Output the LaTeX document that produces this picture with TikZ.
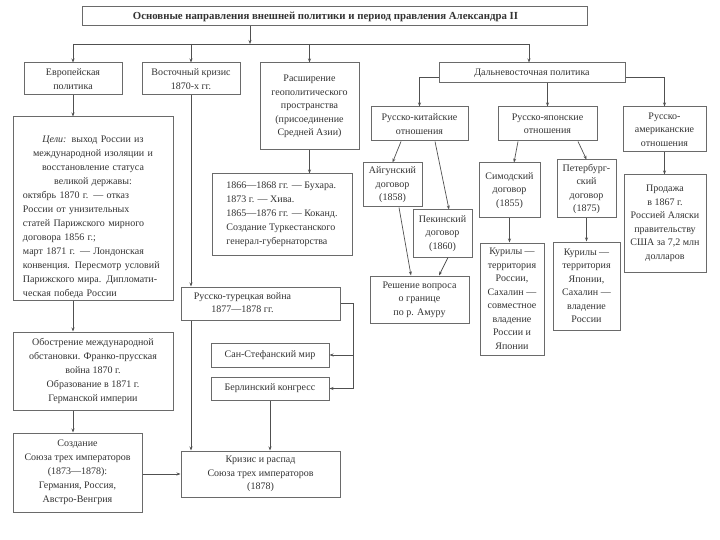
\documentclass[tikz,border=0pt]{standalone}
\usepackage{fontspec}
\setmainfont{Liberation Serif}
\usetikzlibrary{arrows.meta}
\definecolor{boxc}{HTML}{6A6A6A}
\definecolor{linec}{HTML}{505050}
\definecolor{txtc}{HTML}{333333}
\begin{document}
\begin{tikzpicture}[x=1pt,y=-1pt,
  box/.style={draw=boxc, line width=1pt, inner sep=1pt, align=center, text=txtc,
    font=\fontsize{10}{13.5}\selectfont},
  sz/.style 2 args={minimum width=#1, minimum height=#2},
  conn/.style={draw=linec, line width=0.7pt},
  arr/.style={conn, -{Stealth[length=4pt,width=3pt]}}]
\useasboundingbox[fill=white] (0,0) rectangle (720,540);

% top
\node[box, sz={505}{19}, font=\bfseries\fontsize{10.8}{12}\selectfont] (title) at (334.5,16.5)
  {\hspace*{-18pt}Основные направления внешней политики и период правления Александра II};

% first level
\node[box, sz={98}{32}] (evr) at (73,79) {Европейская\\политика};
\node[box, sz={98}{32}] (vost) at (191,79) {Восточный кризис\\1870-х гг.};
\node[box, sz={99}{87}] (rassh) at (309.5,106.5) {Расширение\\геополитического\\пространства\\(присоединение\\Средней Азии)};
\node[box, sz={186}{20}] (dalnev) at (532,73) {Дальневосточная политика};

% left column
\node[box, sz={160}{183}, text width=140pt, align=left, font=\fontsize{10}{14}\selectfont] (tsel) at (93,208.5)
  {\rule{0pt}{23pt}\makebox[140pt][c]{\textit{Цели:} выход России из}\\
   \makebox[140pt][c]{международной изоляции и}\\
   \makebox[140pt][c]{восстановление статуса}\\
   \makebox[140pt][c]{великой державы:}\\
   октябрь 1870 г. — отказ\\
   России от унизительных\\
   статей Парижского мирного\\
   договора 1856 г.;\\
   март 1871 г. — Лондонская\\
   конвенция. Пересмотр условий\\
   Парижского мира. Дипломати-\\
   ческая победа России};
\node[box, sz={160}{78}, font=\fontsize{10}{14}\selectfont] (obostr) at (93,371)
  {Обострение международной\\обстановки. Франко-прусская\\война 1870 г.\\Образование в 1871 г.\\Германской империи};
\node[box, sz={129}{79}, font=\fontsize{10}{14}\selectfont] (sozd) at (77.5,472.5)
  {Создание\\Союза трех императоров\\(1873—1878):\\Германия, Россия,\\Австро-Венгрия};

% middle column
\node[box, sz={140}{81}, align=left, font=\fontsize{10}{14}\selectfont] (t1866) at (282,214.5)
  {1866—1868 гг. — Бухара.\\1873 г. — Хива.\\1865—1876 гг. — Коканд.\\Создание Туркестанского\\генерал-губернаторства};
\node[box, sz={159}{33}] (rtur) at (260.5,303.5)
  {\hspace*{-36pt}\begin{tabular}{@{}c@{}}Русско-турецкая война\\1877—1878 гг.\end{tabular}};
\node[box, sz={118}{24}] (sanst) at (270,355) {Сан-Стефанский мир};
\node[box, sz={118}{23}] (berl) at (270,388.5) {Берлинский конгресс};
\node[box, sz={159}{46}] (kriz) at (260.5,474)
  {Кризис и распад\\Союза трех императоров\\(1878)};

% far east
\node[box, sz={97}{34}] (rkit) at (419.5,124) {Русско-китайские\\отношения};
\node[box, sz={99}{34}] (rjap) at (547.5,124) {Русско-японские\\отношения};
\node[box, sz={83}{45}] (ramer) at (664.5,129.5) {Русско-\\американские\\отношения};
\node[box, sz={59}{44}] (aigun) at (392.5,185) {Айгунский\\договор\\(1858)};
\node[box, sz={59}{47}] (pekin) at (442.5,233.5) {Пекинский\\договор\\(1860)};
\node[box, sz={99}{47}] (resh) at (419.5,299.5) {Решение вопроса\\о границе\\по р. Амуру};
\node[box, sz={61}{55}] (simod) at (509.5,190.5) {Симодский\\договор\\(1855)};
\node[box, sz={64}{112}] (kur1) at (512,299)
  {Курилы —\\территория\\России,\\Сахалин —\\совместное\\владение\\России и\\Японии};
\node[box, sz={59}{58}] (peterb) at (586.5,189) {Петербург-\\ский\\договор\\(1875)};
\node[box, sz={67}{88}] (kur2) at (586.5,286)
  {Курилы —\\территория\\Японии,\\Сахалин —\\владение\\России};
\node[box, sz={82}{97}] (prod) at (665,223.5)
  {Продажа\\в 1867 г.\\Россией Аляски\\правительству\\США за 7,2 млн\\долларов};

% connectors: top bar
\coordinate (b0) at (250,44);
\coordinate (bL) at (73,44);
\coordinate (bR) at (529,44);
\draw[arr] (title.south -| b0) -- (b0);
\draw[conn] (bL) -- (bR);
\draw[arr] (bL) -- (evr.north);
\draw[arr] (vost.north |- bL) -- (vost.north);
\draw[arr] (rassh.north |- bL) -- (rassh.north);
\draw[arr] (bR) -- (bR |- dalnev.north);

% left
\draw[arr] (evr.south) -- (evr.south |- tsel.north);
\draw[arr] (evr.south |- tsel.south) -- (evr.south |- obostr.north);
\draw[arr] (evr.south |- obostr.south) -- (evr.south |- sozd.north);
\draw[arr] (sozd.east |- kriz.west) -- (kriz.west);

% middle
\draw[arr] (vost.south) -- (vost.south |- rtur.north);
\draw[arr] (rtur.south -| vost.south) -- (kriz.north -| vost.south);
\coordinate (rc) at (353,303.5);
\draw[conn] (rtur.east) -- (rc) -- (rc |- berl.east);
\draw[arr] (rc |- sanst.east) -- (sanst.east);
\draw[arr] (rc |- berl.east) -- (berl.east);
\draw[arr] (berl.south) -- (berl.south |- kriz.north);
\draw[arr] (rassh.south) -- (rassh.south |- t1866.north);

% far east
\draw[arr] ([yshift=-4pt]dalnev.west) -| (rkit.north);
\draw[arr] ([yshift=-4pt]dalnev.east) -| (ramer.north);
\draw[arr] (dalnev.south -| rjap.north) -- (rjap.north);
\draw[arr] ([xshift=-18.5pt]rkit.south) -- (aigun.north);
\draw[arr] ([xshift=15.5pt]rkit.south) -- ([xshift=6.5pt]pekin.north);
\draw[arr] ([xshift=6.5pt]aigun.south) -- ([xshift=-8.5pt]resh.north);
\draw[arr] ([xshift=5.5pt]pekin.south) -- ([xshift=19.5pt]resh.north);
\draw[arr] ([xshift=-29.5pt]rjap.south) -- ([xshift=4.5pt]simod.north);
\draw[arr] ([xshift=30.5pt]rjap.south) -- (peterb.north);
\draw[arr] (simod.south) -- (simod.south |- kur1.north);
\draw[arr] (peterb.south) -- (kur2.north);
\draw[arr] (ramer.south) -- (ramer.south |- prod.north);
\end{tikzpicture}
\end{document}
